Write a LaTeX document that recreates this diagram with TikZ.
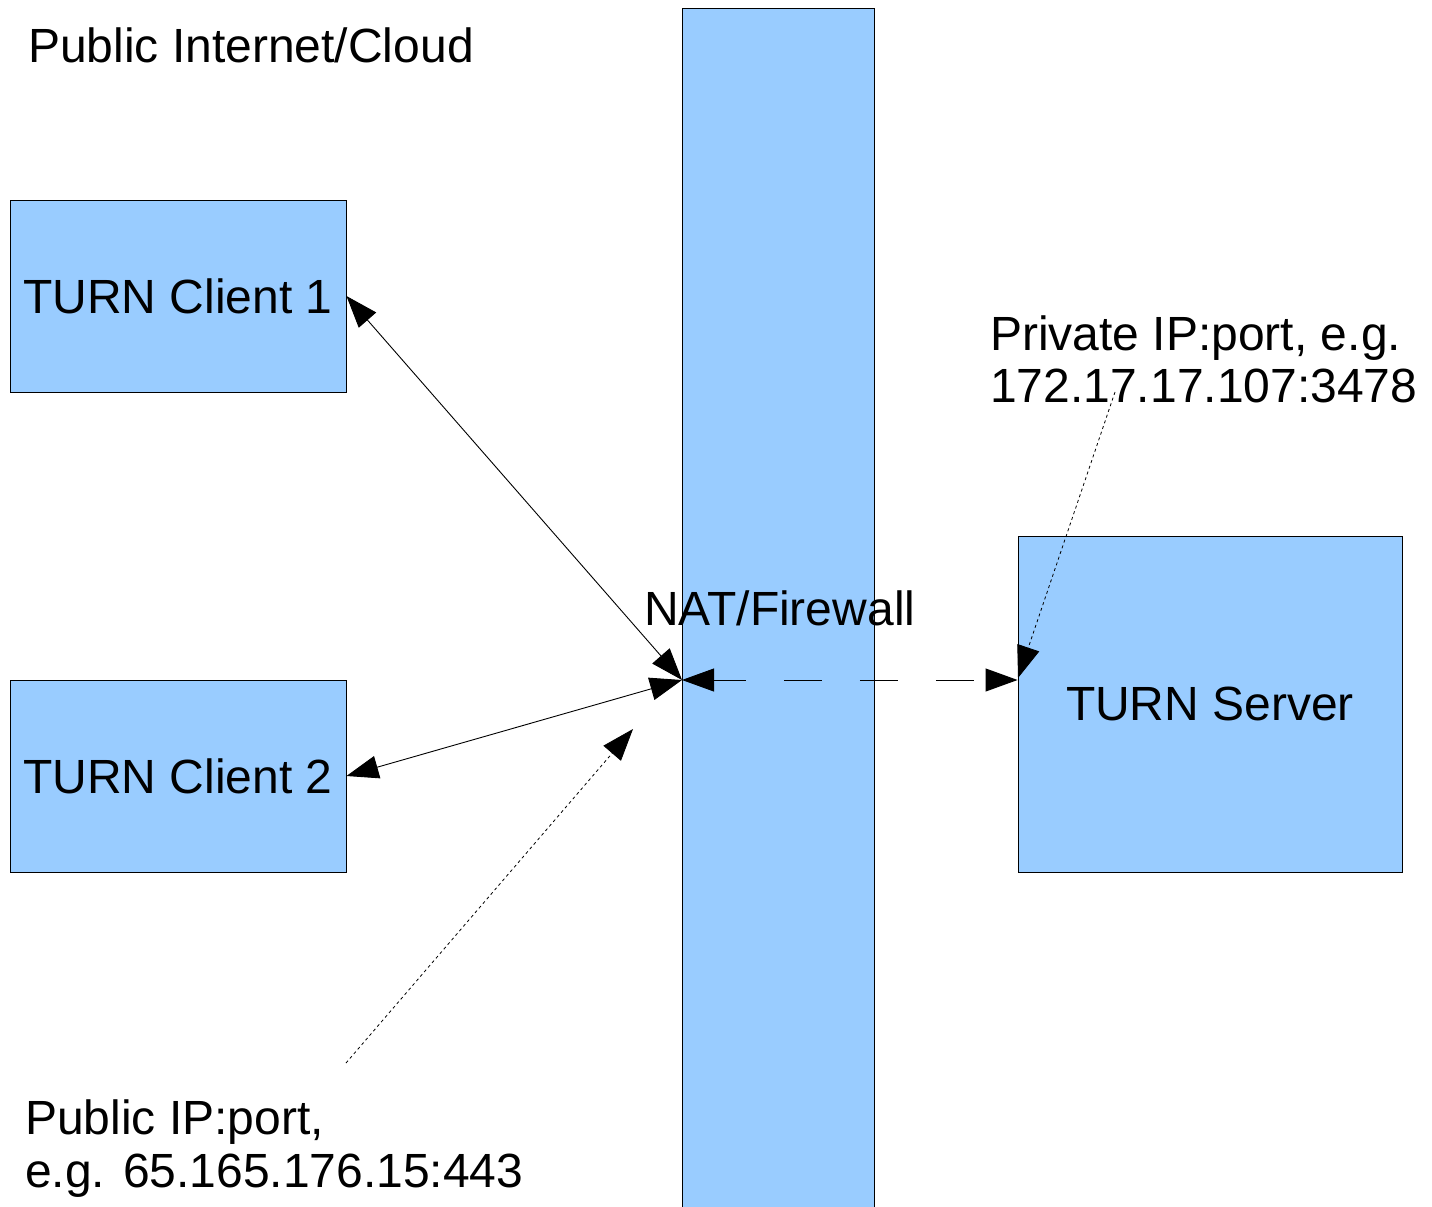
\documentclass[tikz,border=0pt]{standalone}
\usepackage{fontspec}
\setmainfont{Liberation Sans}
\usetikzlibrary{arrows.meta}
\definecolor{boxblue}{HTML}{99CCFF}
\begin{document}
\begin{tikzpicture}[x=1pt,y=-1pt,
  bigfont/.style={font=\fontsize{48}{53}\selectfont},
  box/.style={draw=black,line width=0.9pt,fill=boxblue,inner sep=0pt,bigfont,align=center},
  lbl/.style={bigfont,inner sep=0pt,anchor=base west},
  tip/.style={-{Triangle[length=32pt,width=23pt]}},
  biarrow/.style={{Triangle[length=32pt,width=23pt]}-{Triangle[length=32pt,width=23pt]},line width=0.9pt},
  pointer/.style={tip,line width=0.8pt,dash pattern=on 3pt off 3pt}
]
\useasboundingbox (0,0) rectangle (1432,1207);

% NAT/firewall column running off the bottom edge
\node[box,minimum width=192pt,minimum height=1220pt,anchor=north west] (fw) at (682,8) {};

% endpoints
\node[box,minimum width=336pt,minimum height=192pt] (c1) at (178,296) {TURN Client 1};
\node[box,minimum width=336pt,minimum height=192pt] (c2) at (178,776) {TURN Client 2};
\node[box,minimum width=384pt,minimum height=336pt] (srv) at (1210,704) {TURN Server};

% labels
\node[lbl] (cloud) at (28,63) {Public Internet/Cloud};
\node[lbl] (natlbl) at (644,625) {NAT/Firewall};
\node[lbl] (priv1) at (990,350) {Private IP:port, e.g.};
\node[lbl] (priv2) at (990,402) {172.17.17.107:3478};
\node[lbl] (pub1) at (25,1134) {Public IP:port,};
\node[lbl] (pub2) at (25,1187) {e.g. 65.165.176.15:443};

% connection points
\coordinate (nat) at (682,680);
\coordinate (srvin) at (srv.west |- nat);
\coordinate (pubfrom) at (346,1063);
\coordinate (pubto) at (633,729);
\coordinate (privfrom) at (1115,392);
\coordinate (privto) at (1018,678);

% traffic through the NAT
\draw[biarrow] (c1.east) -- (nat);
\draw[biarrow] (c2.east) -- (nat);
\draw[biarrow,dash pattern=on 38pt off 38pt,dash phase=6pt] (nat) -- (srvin);

% address annotations
\draw[pointer] (pubfrom) -- (pubto);
\draw[pointer] (privfrom) -- (privto);
\end{tikzpicture}
\end{document}
